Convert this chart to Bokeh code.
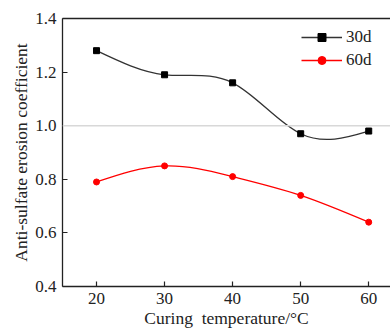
import numpy as np
from bokeh.plotting import figure
from bokeh.models import (LinearAxis, Span, Legend, LegendItem, FixedTicker, Range1d,
                          NumeralTickFormatter)
from bokeh.embed import file_html
from bokeh.resources import INLINE

temps = [20, 30, 40, 50, 60]
coef_30d = [1.28, 1.19, 1.16, 0.97, 0.98]
coef_60d = [0.79, 0.85, 0.81, 0.74, 0.64]
y_ticks = [0.4, 0.6, 0.8, 1.0, 1.2, 1.4]
x_ticks = [20, 30, 40, 50, 60]

FONT = "Liberation Serif"

p = figure(width=390, height=330, output_backend="svg", toolbar_location=None,
           x_range=Range1d(15, 63.2), y_range=Range1d(0.4, 1.4),
           min_border_left=62, min_border_top=18, min_border_bottom=42, min_border_right=0)
p.outline_line_color = None
p.background_fill_color = None
p.border_fill_color = "white"
p.xgrid.visible = False
p.ygrid.visible = False

for ax in (p.xaxis[0], p.yaxis[0]):
    ax.axis_line_color = "#222222"
    ax.axis_line_width = 1.3
    ax.major_tick_line_color = "#222222"
    ax.major_tick_line_width = 1.2
    ax.major_tick_in = 5
    ax.major_tick_out = 0
    ax.minor_tick_line_color = None
    ax.major_label_text_font = FONT
    ax.major_label_text_font_size = "17px"
    ax.major_label_text_color = "#222222"
    ax.axis_label_text_font = FONT
    ax.axis_label_text_font_style = "normal"
    ax.axis_label_text_color = "#222222"

p.xaxis[0].ticker = FixedTicker(ticks=x_ticks)
p.yaxis[0].ticker = FixedTicker(ticks=y_ticks)
p.yaxis[0].formatter = NumeralTickFormatter(format="0.0")
p.xaxis[0].axis_label = "Curing\u00a0 temperature/\u00b0C"
p.yaxis[0].axis_label = "Anti-sulfate erosion coefficient"
p.xaxis[0].axis_label_text_font_size = "17.5px"
p.yaxis[0].axis_label_text_font_size = "17.5px"
p.xaxis[0].major_label_standoff = 6
p.xaxis[0].axis_label_standoff = 1
p.yaxis[0].major_label_standoff = 6
p.yaxis[0].axis_label_standoff = 1

top = LinearAxis(ticker=FixedTicker(ticks=[]), major_tick_line_color=None,
                 minor_tick_line_color=None, axis_line_color="#222222",
                 axis_line_width=1.3)
p.add_layout(top, "above")

p.add_layout(Span(location=1.0, dimension="width", line_color="#d8d8d8", line_width=1.5))


def bezier_controls(xs, ys):
    xs = np.asarray(xs, float)
    ys = np.asarray(ys, float)
    n = len(xs) - 1
    h = np.diff(xs)
    A = np.zeros((n + 1, n + 1))
    b = np.zeros(n + 1)
    A[0, 0] = 1
    A[n, n] = 1
    for i in range(1, n):
        A[i, i - 1] = h[i - 1]
        A[i, i] = 2 * (h[i - 1] + h[i])
        A[i, i + 1] = h[i]
        b[i] = 6 * ((ys[i + 1] - ys[i]) / h[i] - (ys[i] - ys[i - 1]) / h[i - 1])
    M = np.linalg.solve(A, b)
    d = np.zeros(n + 1)
    for i in range(n):
        d[i] = (ys[i + 1] - ys[i]) / h[i] - h[i] * (2 * M[i] + M[i + 1]) / 6
    d[n] = (ys[n] - ys[n - 1]) / h[n - 1] + h[n - 1] * (M[n - 1] + 2 * M[n]) / 6
    return dict(x0=xs[:-1], y0=ys[:-1], x1=xs[1:], y1=ys[1:],
                cx0=xs[:-1] + h / 3, cy0=ys[:-1] + d[:-1] * h / 3,
                cx1=xs[1:] - h / 3, cy1=ys[1:] - d[1:] * h / 3)


c30 = bezier_controls(temps, coef_30d)
c60 = bezier_controls(temps, coef_60d)
p.bezier(line_color="#333333", line_width=1.3, **c30)
s30 = p.scatter(temps, coef_30d, marker="square", size=6, color="black")
p.bezier(line_color="red", line_width=1.3, **c60)
s60 = p.scatter(temps, coef_60d, marker="circle", size=6, color="red")

# line renderers with a single missing point, used only for the legend swatches
l30 = p.line(x=[np.nan], y=[np.nan], line_color="#333333", line_width=1.3)
l60 = p.line(x=[np.nan], y=[np.nan], line_color="red", line_width=1.3)

legend = Legend(items=[LegendItem(label="30d", renderers=[l30, s30]),
                       LegendItem(label="60d", renderers=[l60, s60])],
                location=(239, 216), orientation="vertical",
                label_text_font=FONT, label_text_font_size="17px", label_text_color="#222222",
                glyph_width=41, glyph_height=20, label_height=20, spacing=3,
                padding=0, margin=0, label_standoff=4,
                border_line_color=None, background_fill_alpha=0)
p.add_layout(legend)

open("out.html", "w").write(file_html(p, INLINE))
